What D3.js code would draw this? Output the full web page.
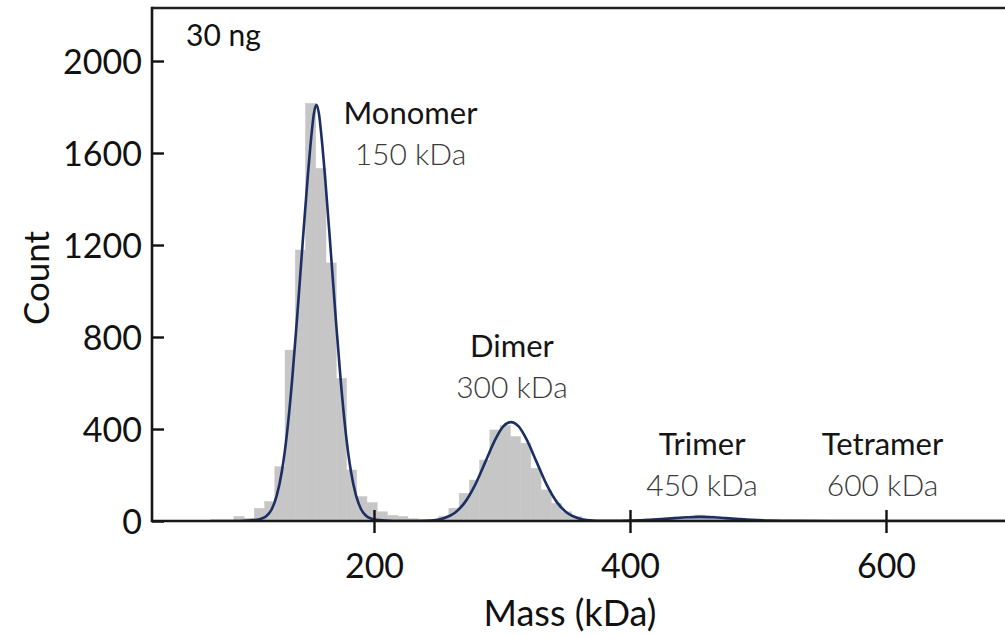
<!DOCTYPE html>
<html>
<head>
<meta charset="utf-8">
<script src="https://cdn.jsdelivr.net/npm/d3@7"></script>
<style>
  html, body { margin: 0; padding: 0; background: #fff; }
  svg { display: block; font-family: Lato, "Open Sans", sans-serif; }
</style>
</head>
<body>
<svg id="chart" width="1005" height="636"></svg>
<script>
// ---------------- DATA ----------------
const sampleLabel = "30 ng";
const xTickValues = [200, 400, 600];
const yTickValues = [0, 400, 800, 1200, 1600, 2000];
const xAxisTitle = "Mass (kDa)";
const yAxisTitle = "Count";

// histogram bins (left edge, kDa) and counts, width 8 kDa
const binWidth = 8;
const binLeft = [90.5, 98.5, 106.5, 114.5, 122.5, 130.5, 138.5, 146.5, 154.5, 162.5,
  170.5, 178.5, 186.5, 194.5, 202.5, 210.5, 218.5, 226.5, 234.5, 242.5,
  250.5, 258.5, 266.5, 274.5, 282.5, 290.5, 298.5, 306.5, 314.5, 322.5,
  330.5, 338.5, 346.5, 354.5, 362.5, 370.5, 378.5, 386.5, 394.5, 402.5,
  410.5, 418.5, 426.5, 434.5, 442.5, 450.5, 458.5, 466.5, 474.5, 482.5,
  490.5, 498.5, 506.5, 514.5, 522.5, 530.5, 538.5, 546.5, 554.5];
const binCount = [20, 12, 55, 84, 236, 743, 1178, 1816, 1533, 1122,
  620, 222, 106, 80, 40, 25, 20, 10, 6, 6,
  21, 56, 120, 178, 265, 396, 415, 367, 338, 229,
  135, 77, 40, 19, 8, 4, 3, 3, 4, 6,
  8, 11, 14, 18, 20, 26, 22, 16, 12, 9,
  6, 4, 3, 2, 2, 1, 1, 1, 1];

// fitted curve (mass kDa, count)
const fitMass = [72, 95, 102, 108, 112, 116, 120, 124, 128, 132, 136, 140, 144, 148, 151, 153, 155,
  157, 159, 162, 166, 170, 174, 178, 182, 186, 190, 194, 198, 202, 208, 215, 230,
  240, 248, 255, 263, 271, 279, 287, 295, 301, 307, 313, 319, 327, 335, 343, 351, 359, 366, 375,
  385, 400, 415, 425, 435, 445, 455, 465, 475, 485, 495, 510, 530, 560, 700];
const fitCount = [0, 0, 2, 5, 10, 22, 50, 110, 215, 380, 610, 890, 1190, 1480, 1670, 1770, 1810,
  1770, 1670, 1480, 1190, 890, 610, 380, 215, 110, 50, 22, 10, 5, 2, 0, 0,
  1, 4, 13, 35, 81, 157, 257, 357, 411, 430, 411, 357, 257, 157, 81, 35, 13, 4, 1,
  1, 2, 5, 8.5, 12.5, 16, 18, 16, 12.5, 8.5, 5, 2, 0.5, 0, 0];

// peak annotations
const peakNames = ["Monomer", "Dimer", "Trimer", "Tetramer"];
const peakMassLabels = ["150 kDa", "300 kDa", "450 kDa", "600 kDa"];

// ---------------- LAYOUT ----------------
const W = 1005, H = 636;
const plot = { left: 152, right: 1005, top: 8, bottom: 521 };
const labelPos = [   // anchor (kDa, count) for the name line; mass line sits below
  { m: 228.5, c: 1726 },
  { m: 307.8, c: 713 },
  { m: 456.3, c: 287 },
  { m: 597.3, c: 287 }
];

const svg = d3.select("#chart");
svg.append("rect").attr("width", W).attr("height", H).attr("fill", "#fff");

const x = d3.scaleLinear().domain([0, 700]).range([118, 1014]);
const y = d3.scaleLinear().domain([0, 2000]).range([521, 61]);

svg.append("defs").append("clipPath").attr("id", "clip")
  .append("rect").attr("x", plot.left).attr("y", plot.top)
  .attr("width", plot.right - plot.left).attr("height", plot.bottom - plot.top);

const g = svg.append("g").attr("clip-path", "url(#clip)");

// histogram
const bins = binLeft.map((b, i) => ({ x0: b, x1: b + binWidth, c: binCount[i] }));
g.selectAll("rect.bar").data(bins).join("rect")
  .attr("class", "bar")
  .attr("x", d => x(d.x0))
  .attr("width", d => x(d.x1) - x(d.x0))
  .attr("y", d => y(d.c))
  .attr("height", d => y(0) - y(d.c))
  .attr("fill", "#c6c6c6")
  .attr("stroke", "#c6c6c6")
  .attr("stroke-width", 0.5);

// fitted curve
const pts = fitMass.map((m, i) => [m, fitCount[i]]);
g.append("path")
  .datum(pts)
  .attr("fill", "none")
  .attr("stroke", "#1c2f63")
  .attr("stroke-width", 2.6)
  .attr("d", d3.line().x(d => x(d[0])).y(d => y(d[1])).curve(d3.curveMonotoneX));

// axes
const yAxis = svg.append("g").attr("transform", `translate(${plot.left},0)`)
  .call(d3.axisLeft(y).tickValues(yTickValues).tickSize(-12).tickPadding(10).tickFormat(d3.format("d")));
yAxis.select(".domain").remove();
yAxis.selectAll(".tick line").attr("stroke", "#111").attr("stroke-width", 2.4);
yAxis.selectAll(".tick text")
  .attr("font-family", "Lato, sans-serif")
  .attr("font-size", 34).attr("fill", "#111").attr("dy", "0.36em");

const xAxis = svg.append("g").attr("transform", `translate(0,${plot.bottom})`)
  .call(d3.axisBottom(x).tickValues(xTickValues).tickSize(12).tickFormat(d3.format("d")));
xAxis.select(".domain").remove();
xAxis.selectAll(".tick line").attr("y1", -11).attr("y2", 12)
  .attr("stroke", "#111").attr("stroke-width", 2.4);
xAxis.selectAll(".tick text")
  .attr("font-family", "Lato, sans-serif")
  .attr("font-size", 34).attr("fill", "#111").attr("y", 57).attr("dy", 0);

// frame lines
const frame = svg.append("g").attr("stroke", "#161616").attr("stroke-width", 2.6).attr("fill", "none");
frame.append("line").attr("x1", plot.left).attr("x2", plot.right + 2).attr("y1", plot.bottom).attr("y2", plot.bottom);
frame.append("line").attr("x1", plot.left).attr("x2", plot.left).attr("y1", plot.top - 1.3).attr("y2", plot.bottom + 1.3);
frame.append("line").attr("x1", plot.left).attr("x2", plot.right + 2).attr("y1", plot.top).attr("y2", plot.top).attr("stroke", "#222");

// axis titles
svg.append("text").attr("x", 570).attr("y", 626).attr("text-anchor", "middle")
  .attr("font-size", 36).attr("fill", "#111").text(xAxisTitle);
svg.append("text").attr("transform", "translate(49,278) rotate(-90)").attr("text-anchor", "middle")
  .attr("font-size", 35).attr("fill", "#111").text(yAxisTitle);

// sample label
svg.append("text").attr("x", 186).attr("y", 46).attr("font-size", 30).attr("fill", "#111").text(sampleLabel);

// peak annotations
peakNames.forEach((name, i) => {
  const p = labelPos[i];
  svg.append("text").attr("x", x(p.m)).attr("y", y(p.c)).attr("text-anchor", "middle")
    .attr("font-size", 31).attr("fill", "#151515").text(name);
  svg.append("text").attr("x", x(p.m)).attr("y", y(p.c) + 41).attr("text-anchor", "middle")
    .attr("font-size", 30).attr("font-weight", 300).attr("fill", "#3a3a3a").text(peakMassLabels[i]);
});
</script>
</body>
</html>
